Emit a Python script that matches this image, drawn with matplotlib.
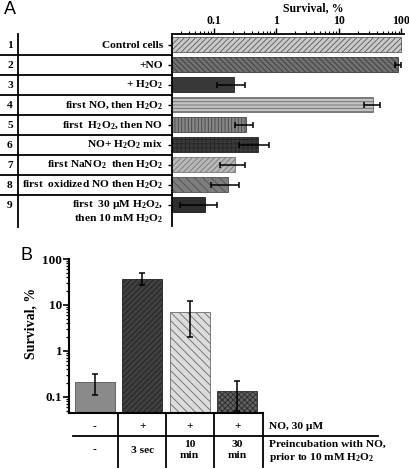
import numpy as np
import matplotlib
matplotlib.use("Agg")
import matplotlib.pyplot as plt
from matplotlib.lines import Line2D
from matplotlib.ticker import FuncFormatter, LogLocator
from matplotlib.transforms import blended_transform_factory

plt.rcParams['font.family'] = ['Liberation Serif', 'DejaVu Serif']
plt.rcParams['font.weight'] = 'bold'
plt.rcParams['mathtext.fontset'] = 'custom'
plt.rcParams['mathtext.default'] = 'regular'
plt.rcParams['hatch.linewidth'] = 0.6

# panel A data
rowsA = ["1", "2", "3", "4", "5", "6", "7", "8", "9"]
labelsA = ["Control cells", "+NO", "+ H$_2$O$_2$", "first NO, then H$_2$O$_2$",
           "first  H$_2$O$_2$, then NO", "NO+ H$_2$O$_2$ mix",
           "first NaNO$_2$  then H$_2$O$_2$", "first  oxidized NO then H$_2$O$_2$",
           "first  30 \u00b5M H$_2$O$_2$,\nthen 10 mM H$_2$O$_2$"]
survA = [100, 88, 0.21, 35, 0.32, 0.5, 0.22, 0.17, 0.071]
errA = [0, 10, 0.1, 10, 0.1, 0.25, 0.095, 0.08, 0.042]
faceA = ['#c9c9c9', '#707070', '#383838', '#c2c2c2', '#858585', '#3a3a3a', '#b8b8b8', '#7d7d7d', '#2e2e2e']
edgeA = ['#5a5a5a', '#3a3a3a', '#222222', '#6a6a6a', '#474747', '#262626', '#777777', '#505050', '#151515']
hatchA = ['//////', '\\\\\\\\\\\\', '', '-----', '|||||', '++++', '//////', '\\\\\\\\', '']

# panel B data
survB = [0.21, 37, 7, 0.135]
errB_lo = [0.1, 10, 5, 0.085]
errB_hi = [0.1, 12, 5, 0.085]
faceB = ['#8a8a8a', '#404040', '#dcdcdc', '#606060']
edgeB = ['#555555', '#202020', '#6a6a6a', '#2a2a2a']
hatchB = ['', '//////', '\\\\\\\\', 'xxxxxx']
noRow = ["-", "+", "+", "+"]
preRow = ["-", "3 sec", "10\nmin", "30\nmin"]

W, H = 410, 469
fig = plt.figure(figsize=(W / 100, H / 100), dpi=100)


def fx(x):
    return x / W


def fy(y):
    return 1 - y / H


def fline(x0, y0, x1, y1, lw=1.3):
    fig.add_artist(Line2D([fx(x0), fx(x1)], [fy(y0), fy(y1)], color='black',
                          lw=lw, transform=fig.transFigure))


# ---------------- panel A ----------------
axA = fig.add_axes([fx(171.7), fy(226), fx(404) - fx(171.7), fy(34) - fy(226)])
ypos = np.arange(len(survA))
for i in range(len(survA)):
    axA.barh(ypos[i], survA[i], height=0.75, color=faceA[i], edgecolor=edgeA[i],
             hatch=hatchA[i], linewidth=0.6)
    if errA[i] > 0:
        axA.errorbar(survA[i], ypos[i], xerr=errA[i], fmt='none', ecolor='black',
                     elinewidth=1.1, capsize=2.5, capthick=1.1)
axA.set_xscale('log')
axA.set_xlim(0.021, 110)
axA.set_ylim(9.05, -0.55)
axA.xaxis.tick_top()
axA.xaxis.set_major_locator(LogLocator(base=10))
axA.xaxis.set_minor_locator(LogLocator(base=10, subs=np.arange(2, 10)))
axA.xaxis.set_major_formatter(FuncFormatter(lambda v, p: f"{v:g}"))
axA.xaxis.set_minor_formatter(FuncFormatter(lambda v, p: ""))
axA.tick_params(axis='x', which='major', direction='out', length=4, width=1, labelsize=8.5, pad=1)
axA.tick_params(axis='x', which='minor', direction='out', length=2, width=0.8)
axA.set_yticks(ypos)
axA.set_yticklabels([])
axA.tick_params(axis='y', direction='out', length=3, width=1)
for s in ['bottom', 'right']:
    axA.spines[s].set_visible(False)
axA.spines['top'].set_linewidth(1.3)
axA.spines['left'].set_linewidth(1.3)

trA = blended_transform_factory(fig.transFigure, axA.transData)
for i in range(len(survA)):
    va_y = ypos[i] if i < 8 else ypos[i] + 0.32
    axA.text(fx(163), va_y, labelsA[i], transform=trA, ha='right', va='center',
             fontsize=8.2, fontweight='bold', linespacing=1.15)
    axA.text(fx(10), ypos[i], rowsA[i], transform=trA, ha='center', va='center',
             fontsize=8.2, fontweight='bold')
for i in range(len(survA) - 1):
    axA.add_line(Line2D([fx(0), fx(171.7)], [ypos[i] + 0.5, ypos[i] + 0.5], transform=trA,
                        color='black', lw=1.3, clip_on=False))
axA.add_line(Line2D([fx(18), fx(18)], [-0.55, 9.1], transform=trA, color='black',
                    lw=1.3, clip_on=False))

fig.text(fx(313.5), fy(8), "Survival, %", ha='center', va='center', fontsize=8.5,
         fontweight='bold')
fig.text(fx(4), fy(10), "A", ha='left', va='center', fontsize=13,
         family='Liberation Sans', fontweight='normal')

# ---------------- panel B ----------------
axB = fig.add_axes([fx(69.3), fy(413.3), fx(263.3) - fx(69.3), fy(259) - fy(413.3)])
xpos = np.arange(len(survB))
for i in range(len(survB)):
    axB.bar(xpos[i], survB[i], width=0.84, color=faceB[i], edgecolor=edgeB[i],
            hatch=hatchB[i], linewidth=0.6)
axB.errorbar(xpos, survB, yerr=[errB_lo, errB_hi], fmt='none', ecolor='black',
             elinewidth=1.1, capsize=2.5, capthick=1.1)
axB.set_yscale('log')
axB.set_ylim(0.044, 100)
axB.set_xlim(-0.535, 3.55)
axB.yaxis.set_major_locator(LogLocator(base=10))
axB.yaxis.set_minor_locator(LogLocator(base=10, subs=np.arange(2, 10)))
axB.yaxis.set_major_formatter(FuncFormatter(lambda v, p: f"{v:g}"))
axB.yaxis.set_minor_formatter(FuncFormatter(lambda v, p: ""))
axB.tick_params(axis='y', which='major', direction='out', length=4, width=1.2, labelsize=9.5, pad=1)
axB.tick_params(axis='y', which='minor', direction='out', length=2.5, width=0.9)
axB.set_xticks([])
for s in ['top', 'right']:
    axB.spines[s].set_visible(False)
axB.spines['left'].set_linewidth(1.5)
axB.spines['bottom'].set_linewidth(1.5)
fig.text(fx(31), fy(323), "Survival, %", rotation=90, ha='center', va='center',
         fontsize=10, fontweight='bold')

trB = blended_transform_factory(axB.transData, fig.transFigure)
for i in range(len(survB)):
    axB.text(xpos[i], fy(426.5), noRow[i], transform=trB, ha='center', va='center',
             fontsize=8.2, fontweight='bold')
    axB.text(xpos[i], fy(450), preRow[i], transform=trB, ha='center', va='center',
             fontsize=8.2, fontweight='bold', linespacing=1.2)
for xv in [118.3, 165.7, 214, 262.7]:
    fline(xv, 413.3, xv, 467)
fline(73, 435.7, 378, 435.7)
fig.text(fx(269), fy(426), "NO, 30 \u00b5M", ha='left', va='center', fontsize=8.2,
         fontweight='bold')
fig.text(fx(269), fy(451.5), "Preincubation with NO,\nprior to 10 mM H$_2$O$_2$",
         ha='left', va='center', fontsize=8.2, fontweight='bold', linespacing=1.25)
fig.text(fx(21), fy(255), "B", ha='left', va='center', fontsize=13,
         family='Liberation Sans', fontweight='normal')

fig.savefig("out.png", dpi=100)
